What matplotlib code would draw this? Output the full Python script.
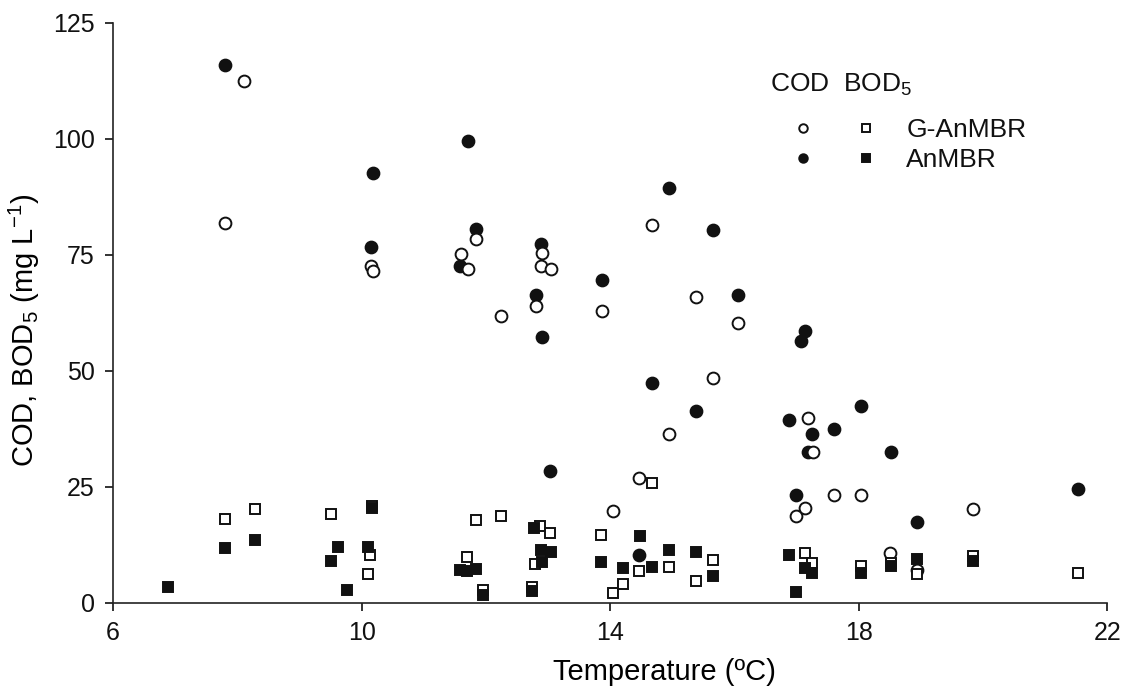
import matplotlib
matplotlib.use('Agg')
import matplotlib.pyplot as plt
from matplotlib.legend_handler import HandlerTuple

plt.rcParams['font.family'] = ['Liberation Sans', 'DejaVu Sans']
plt.rcParams['mathtext.fontset'] = 'custom'
plt.rcParams['mathtext.rm'] = 'Liberation Sans'
plt.rcParams['mathtext.it'] = 'Liberation Sans:italic'

# COD, G-AnMBR (open circles)
cod_g_temp = [7.81, 8.10, 10.15, 10.19, 11.60, 11.71, 11.84, 12.25, 12.80, 12.88,
              12.91, 13.04, 13.87, 14.04, 14.47, 14.68, 14.95, 15.38, 15.65, 16.06,
              16.99, 17.13, 17.18, 17.27, 17.60, 18.04, 18.51, 18.94, 19.84]
cod_g_val = [81.8, 112.4, 72.7, 71.6, 75.2, 72.0, 78.4, 61.9, 63.9, 72.5,
             75.4, 71.9, 62.9, 19.7, 26.8, 81.5, 36.3, 65.9, 48.4, 60.4,
             18.8, 20.4, 39.9, 32.5, 23.3, 23.3, 10.7, 7.0, 20.3]

# COD, AnMBR (filled circles)
cod_a_temp = [7.81, 10.19, 10.15, 11.59, 11.71, 11.84, 12.80, 12.88, 12.91, 13.03,
              13.87, 14.47, 14.68, 14.95, 15.38, 15.66, 16.06, 16.88, 16.99, 17.07,
              17.14, 17.19, 17.25, 17.60, 18.04, 18.52, 18.93, 21.53]
cod_a_val = [115.9, 92.7, 76.7, 72.5, 99.6, 80.5, 66.4, 77.4, 57.4, 28.3,
             69.5, 10.3, 47.3, 89.5, 41.4, 80.4, 66.4, 39.4, 23.3, 56.5,
             58.5, 32.5, 36.4, 37.4, 42.5, 32.5, 17.3, 24.6]

# BOD5, G-AnMBR (open squares)
bod_g_temp = [7.81, 8.29, 9.51, 10.14, 10.10, 10.17, 11.70, 11.84, 11.95, 12.25,
              12.74, 12.79, 12.87, 13.03, 13.86, 14.04, 14.21, 14.47, 14.67, 14.94,
              15.38, 15.65, 17.13, 17.25, 18.04, 18.52, 18.94, 19.84, 21.53]
bod_g_val = [18.0, 20.3, 19.2, 10.3, 6.3, 20.8, 9.9, 17.9, 2.8, 18.7,
             3.3, 8.4, 16.5, 15.0, 14.7, 2.2, 4.0, 6.9, 25.8, 7.8,
             4.7, 9.3, 10.8, 8.6, 8.0, 8.5, 6.2, 10.0, 6.4]

# BOD5, AnMBR (filled squares)
bod_a_temp = [6.89, 7.81, 8.29, 9.51, 9.62, 9.76, 10.10, 10.17, 11.58, 11.70,
              11.84, 11.95, 12.74, 12.77, 12.88, 12.91, 13.04, 13.86, 14.21, 14.48,
              14.67, 14.95, 15.38, 15.65, 16.87, 16.99, 17.13, 17.25, 18.04, 18.52,
              18.94, 19.84]
bod_a_val = [3.5, 11.8, 13.5, 9.0, 12.0, 2.8, 12.1, 20.5, 7.0, 6.8,
             7.2, 1.7, 2.5, 16.1, 11.4, 8.8, 11.0, 8.7, 7.4, 14.3,
             7.8, 11.4, 11.0, 5.7, 10.3, 2.4, 7.5, 6.5, 6.4, 8.0,
             9.4, 8.9]

x_ticks = [6, 10, 14, 18, 22]
y_ticks = [0, 25, 50, 75, 100, 125]

fig = plt.figure(figsize=(11.3, 6.96), dpi=100)
ax = fig.add_axes([0.100, 0.134, 0.880, 0.833])

ms_c = 8.5
ms_s = 7.8
ew = 1.4
l_cod_a, = ax.plot(cod_a_temp, cod_a_val, 'o', ms=ms_c, mfc='#111111', mec='#111111', mew=ew, zorder=3)
l_cod_g, = ax.plot(cod_g_temp, cod_g_val, 'o', ms=ms_c, mfc='white', mec='#111111', mew=ew, zorder=4)
l_bod_g, = ax.plot(bod_g_temp, bod_g_val, 's', ms=ms_s, mfc='white', mec='#111111', mew=ew, zorder=5)
l_bod_a, = ax.plot(bod_a_temp, bod_a_val, 's', ms=ms_s, mfc='#111111', mec='#111111', mew=ew, zorder=6)

ax.set_xlim(6, 22)
ax.set_ylim(0, 125)
ax.set_xticks(x_ticks)
ax.set_yticks(y_ticks)
ax.spines['top'].set_visible(False)
ax.spines['right'].set_visible(False)
for s in ['left', 'bottom']:
    ax.spines[s].set_linewidth(1.2)
    ax.spines[s].set_color('#222222')
ax.tick_params(direction='out', length=6, width=1.2, labelsize=18, pad=7, colors='#111111')

ax.set_xlabel('Temperature (ºC)', fontsize=21)
ax.xaxis.set_label_coords(0.555, -0.095)
ax.set_ylabel('COD, BOD$_5$ (mg L$^{-1}$)', fontsize=21)
ax.yaxis.set_label_coords(-0.071, 0.47)

# legend header and rows
ax.text(0.661, 0.893, 'COD  BOD$_5$', transform=ax.transAxes, fontsize=19,
        ha='left', va='center', color='#111111')
leg = ax.legend([(l_cod_g, l_bod_g), (l_cod_a, l_bod_a)], ['G-AnMBR', 'AnMBR'],
                handler_map={tuple: HandlerTuple(ndivide=None, pad=1.25)},
                fontsize=19, loc='upper left', bbox_to_anchor=(0.679, 0.836),
                frameon=False, handlelength=3.52, handletextpad=0.95,
                markerscale=0.72, labelspacing=0.24, borderpad=0, borderaxespad=0)
for t in leg.get_texts():
    t.set_color('#111111')

fig.savefig('out.png', dpi=100)
